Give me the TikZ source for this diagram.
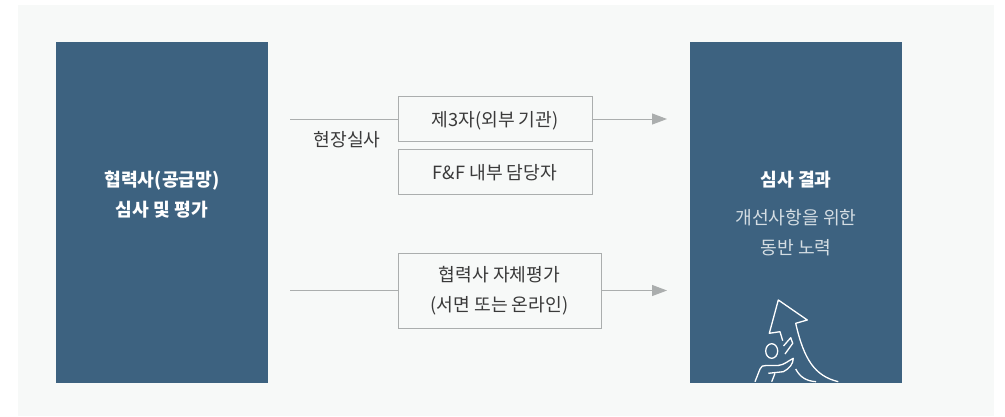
\documentclass[tikz,border=0pt]{standalone}
\usepackage{fontspec}
\setmainfont{Noto Sans CJK KR}
\usepackage{xcolor}
\usetikzlibrary{positioning}
\usetikzlibrary{arrows.meta}
\definecolor{panelgray}{HTML}{F7F9F8}
\definecolor{blockblue}{HTML}{3D6280}
\definecolor{linegray}{HTML}{ABAEAE}
\definecolor{textgray}{HTML}{3A3A3A}

\begin{document}
\begin{tikzpicture}[
      x=1pt,y=-1pt,
      block/.style={fill=blockblue, minimum width=212pt, minimum height=341pt, inner sep=0pt},
      source/.style={draw=linegray, fill=panelgray, line width=1pt, text=textgray, inner sep=0pt, font=\fontsize{18.2pt}{30pt}\selectfont, align=center},
      trans/.style={draw=linegray, line width=1pt, -{Triangle[length=15pt,width=11pt]}},
      feed/.style={draw=linegray, line width=1pt},
      icon/.style={draw=white, line width=1.3pt, line join=round},
      boldtext/.style={text=white, font=\fontsize{18.2pt}{30pt}\selectfont\bfseries, align=center},
      softtext/.style={text=white!78!blockblue, font=\fontsize{18.2pt}{30pt}\selectfont, align=center}
    ]
    \useasboundingbox (0,0) rectangle (1005,416);
    \fill[panelgray] (18,5) rectangle (994,416);

    \node(left)[block] at (162,212.5) {};
    \node(right)[block] at (796,212.5) {};
    \node(lefttitle)[boldtext] at (162,195) {협력사(공급망)\\심사 및 평가};
    \node(righttitle)[boldtext] at (796,180) {심사 결과};
    \node(rightnote)[softtext] at (796,233) {개선사항을 위한\\동반 노력};

    \node(third)[source, minimum width=194pt, minimum height=44.5pt, text height=14pt, text depth=0pt] at (495,119) {제3자(외부 기관)};
    \node(inner)[source, minimum width=194pt, minimum height=44.5pt, text height=14pt, text depth=0pt, below=7.5pt of third] {F\&F 내부 담당자};
    \node(self)[source, minimum width=203pt, minimum height=75pt] at (499.5,290.5) {협력사 자체평가\\(서면 또는 온라인)};
    \node(site)[text=textgray, font=\fontsize{18.2pt}{20pt}\selectfont] at (347,140) {현장실사};

    \coordinate(a) at (290,119);
    \coordinate(b) at (667,119);
    \coordinate(c) at (290,290.5);
    \coordinate(d) at (667,290.5);

    \draw [feed] (a) -- (third);
    \draw [trans] (third) -- (b);
    \draw [feed] (c) -- (self);
    \draw [trans] (self) -- (d);

    % arrow and figure
    \draw [icon] (838.3,381.7) .. controls (815,376) and (804,360) .. (795.7,323.3) -- (807.3,320) -- (778.3,300) -- (769.3,333.3) -- (780,331.7) -- (782.7,340.7);
    \draw [icon] (783.5,346) -- (790.7,337.7) -- (792.7,343.3) -- (785,354);
    \draw [icon] (771.7,351) ellipse (6pt and 7.3pt);
    \draw [icon] (755,381.7) -- (760,369) .. controls (761,366) and (763,365.5) .. (766,365.5) -- (778,365.5) .. controls (784,365) and (788,361) .. (793.3,358.3) .. controls (793,364) and (790,368) .. (783.3,371.7) -- (768.3,373.3);
    \draw [icon] (775,373.3) -- (771.7,381.7);
    \draw [icon] (795.7,369) .. controls (800,377) and (806,381) .. (816,381.7);
\end{tikzpicture}
\end{document}
